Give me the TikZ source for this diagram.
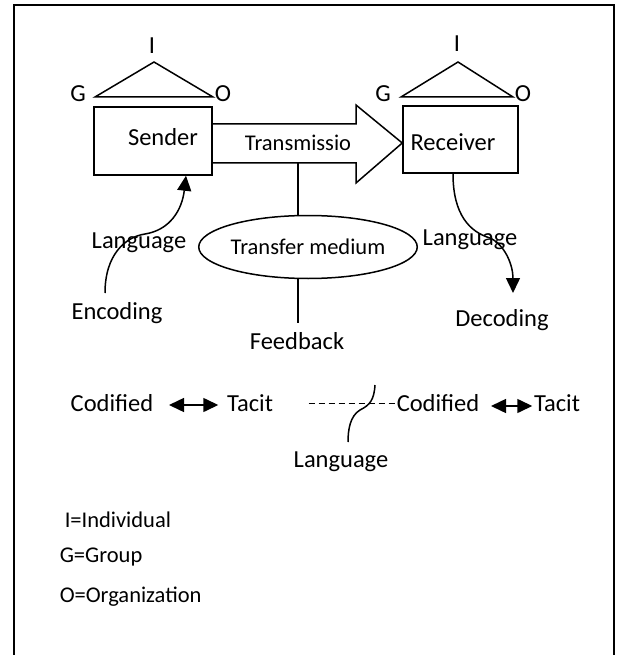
\documentclass[tikz,border=0pt]{standalone}
\usepackage{fontspec}
\setmainfont{Carlito}
\usetikzlibrary{arrows.meta,shapes.geometric,calc}
\tikzset{
  lbl/.style={inner sep=0pt, font=\fontsize{24.5}{29}\selectfont},
  small/.style={inner sep=0pt, font=\fontsize{22.5}{27}\selectfont},
  box/.style={draw, line width=1.5pt, inner sep=0pt},
  tip/.style={-{Triangle[length=15pt,width=14pt]}},
  dbl/.style={{Triangle[length=15pt,width=14pt]}-{Triangle[length=15pt,width=14pt]}},
}
\begin{document}
\begin{tikzpicture}[x=1pt,y=-1pt,line width=1.5pt]
\useasboundingbox (0,0) rectangle (619,655);
% frame
\draw[line width=2.5pt] (14,655) -- (14,5) -- (614,5) -- (614,655);
% sender
\node[box, minimum width=118pt, minimum height=68pt] (sender) at (153,141) {};
\node[lbl] (sendtxt) at (163,137) {Sender};
\node[lbl] (gs) at (78,94) {G};
\node[lbl] (is) at (152,46) {I};
\node[lbl] (os) at (223,94) {O};
\draw (95,97) -- (154,62) -- (213,97) -- cycle;
% receiver
\node[box, minimum width=115pt, minimum height=67pt] (receiver) at (460.5,139.5) {};
\node[lbl] (rectxt) at (453,142) {Receiver};
\node[lbl] (gr) at (383,94) {G};
\node[lbl] (ir) at (457,44) {I};
\node[lbl] (or) at (523,94) {O};
\draw (401,97) -- (458,62) -- (513,97) -- cycle;
% transmission arrow
\draw (sender.east |- 0,124) -- (356,124) -- (356,105) -- (receiver.west |- 0,143)
  -- (356,183) -- (356,163) -- (sender.east |- 0,163);
\node[small] (trans) at (298,143) {Transmissio};
% medium
\node[draw, ellipse, small, minimum width=214pt, minimum height=63pt] (medium) at (308,247) {Transfer medium};
\node[lbl] (feedback) at (297,341) {Feedback};
\draw (trans |- 0,163) -- (trans |- medium.north);
\draw (trans |- medium.south) -- (trans |- 0,323);
% encoding side
\node[lbl] (enc) at (117,313) {Encoding};
\node[lbl] (lang1) at (139,243) {Language};
\coordinate (encup) at (105,293);
\draw[tip] (encup) .. controls (105,255) and (125,237) .. (145,234)
  .. controls (170,230) and (182,210) .. (sender.south -| 186,0);
% decoding side
\node[lbl] (lang2) at (470,240) {Language};
\node[lbl] (dec) at (502,320) {Decoding};
\coordinate (decup) at (513,293);
\draw[tip] (receiver.south -| 453,0) .. controls (453,215) and (470,232) .. (490,238)
  .. controls (505,245) and (513,265) .. (decup);
% codified / tacit
\node[lbl] (cod1) at (112,403) {Codified};
\node[lbl] (tac1) at (250,403) {Tacit};
\node[lbl] (cod2) at (438,403) {Codified};
\node[lbl] (tac2) at (557,403) {Tacit};
\draw[dbl] ($(cod1.east)+(15,2)$) -- ($(tac1.west)+(-8,2)$);
\draw[dbl] ($(cod2.east)+(11,3)$) -- ($(tac2.west)+(-1,3)$);
\draw[line width=1pt, dash pattern=on 6pt off 4pt] ($(tac1.east)+(35,0)$) -- (cod2.west);
\node[lbl] (lang3) at (341,462) {Language};
\coordinate (langtop) at (375,385);
\coordinate (langlow) at (348,442);
\draw (langtop) .. controls (374,400) and (370,405) .. (360,410)
  .. controls (350,416) and (348,430) .. (langlow);
% legend
\node[small, anchor=west] (indiv) at (64,520) {I=Individual};
\node[small, anchor=west] (group) at (59,557) {G=Group};
\node[small, anchor=west] (org) at (59,597) {O=Organization};
\end{tikzpicture}
\end{document}
